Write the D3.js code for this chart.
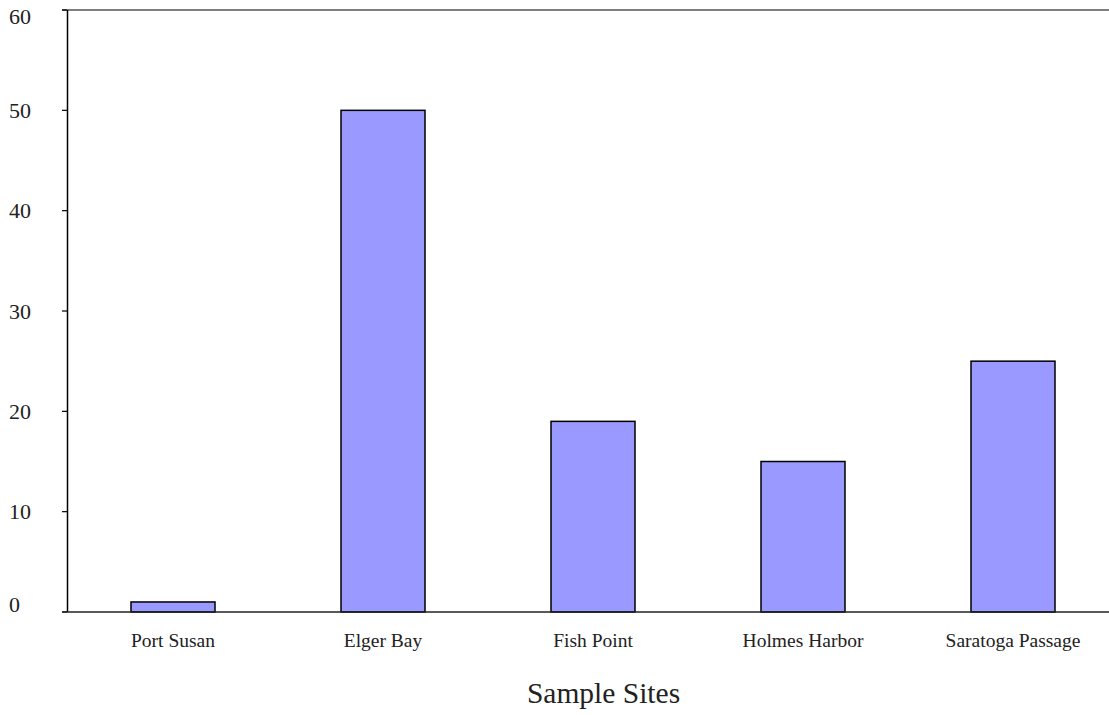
<!DOCTYPE html>
<html><head><meta charset="utf-8">
<script src="https://cdn.jsdelivr.net/npm/d3@7"></script>
<style>body{margin:0;background:#fff}svg{display:block}text{font-family:"Liberation Serif","DejaVu Serif",serif;fill:#222}</style>
</head><body>
<svg id="c" width="1109" height="715"></svg>
<script>
const categories = ["Port Susan","Elger Bay","Fish Point","Holmes Harbor","Saratoga Passage"];
const values = [1,50,19,15,25];
const yTicks = [0,10,20,30,40,50,60];
const xTitle = "Sample Sites";

const svg = d3.select("#c");
const x = d3.scaleBand().domain(categories).range([68,1118]).paddingInner(0.6).paddingOuter(0.3);
const y = d3.scaleLinear().domain([0,60]).range([612,10]);

// top border
svg.append("line").attr("x1",62).attr("x2",1109).attr("y1",y(60)).attr("y2",y(60)).attr("stroke","#555").attr("stroke-width",1.5);
// bars
svg.selectAll("rect.bar").data(values).join("rect").attr("class","bar")
  .attr("x",(d,i)=>x(categories[i])).attr("width",x.bandwidth())
  .attr("y",d=>y(d)).attr("height",d=>y(0)-y(d))
  .attr("fill","#9999ff").attr("stroke","#000").attr("stroke-width",1.5);
// y axis
svg.append("line").attr("x1",67.5).attr("x2",67.5).attr("y1",y(60)).attr("y2",y(0)).attr("stroke","#000").attr("stroke-width",1.5);
svg.selectAll("line.tick").data(yTicks).join("line").attr("class","tick")
  .attr("x1",62).attr("x2",67).attr("y1",d=>y(d)).attr("y2",d=>y(d)).attr("stroke","#000").attr("stroke-width",1.2);
svg.selectAll("text.ylab").data(yTicks).join("text").attr("class","ylab")
  .attr("x",9).attr("y",d=>Math.max(16.5,Math.min(604,y(d)))).attr("dy","0.35em").attr("font-size",22).text(d=>d);
// x axis
svg.append("line").attr("x1",62).attr("x2",1109).attr("y1",y(0)).attr("y2",y(0)).attr("stroke","#222").attr("stroke-width",1.5);
svg.selectAll("text.xlab").data(categories).join("text").attr("class","xlab")
  .attr("x",d=>x(d)+x.bandwidth()/2).attr("y",647).attr("text-anchor","middle").attr("font-size",19.5).text(d=>d);
svg.append("text").attr("x",603.5).attr("y",703).attr("text-anchor","middle").attr("font-size",29.5).text(xTitle);
</script>
</body></html>
